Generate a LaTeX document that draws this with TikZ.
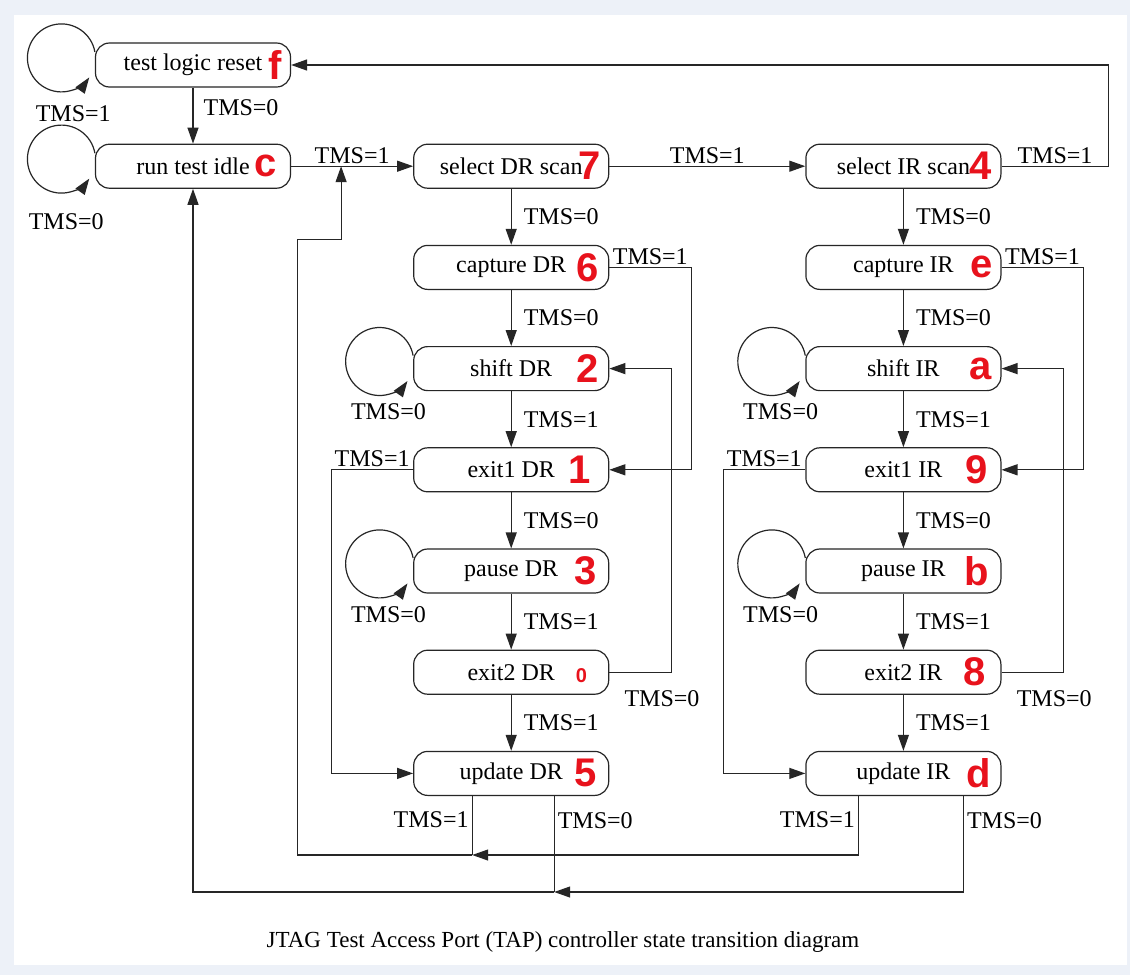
\documentclass[tikz,border=0pt]{standalone}
\usepackage{fontspec}
\setmainfont{Liberation Serif}
\newfontfamily\markfont{Liberation Sans}
\usetikzlibrary{arrows.meta,positioning,calc}
\definecolor{framebg}{RGB}{237,241,248}
\definecolor{markred}{RGB}{232,18,28}

\begin{document}
\begin{tikzpicture}[x=1pt,y=1pt,node distance=56pt and 120pt,
  tapstate/.style={draw=black!85,rounded corners=14pt,minimum width=195pt,minimum height=44pt,inner sep=2pt,fill=white,line width=1.2pt,font=\fontsize{24}{24}\selectfont},
  lbl/.style={inner sep=2pt,font=\fontsize{24}{24}\selectfont},
  hexmark/.style={anchor=east,inner sep=0pt,text=markred,font=\markfont\bfseries\fontsize{40}{40}\selectfont},
  arr/.style={-{Triangle[length=16pt,width=11pt]},line width=1.2pt,draw=black!85},
  wire/.style={line width=1.2pt,draw=black!85}]
% frame
\fill[framebg] (0,0) rectangle (1130,-975);
\fill[white] (14,-15) rectangle (1127,-965);
\useasboundingbox (0,0) rectangle (1130,-975);

% states
\node[tapstate] (tlr) at (193,-65) {test logic reset};
\node[tapstate,below=of tlr] (rti) {run test idle};
\node[tapstate,right=122pt of rti] (sdr) {select DR scan};
\node[tapstate,right=196pt of sdr] (sir) {select IR scan};
\node[tapstate,below=of sdr] (cdr) {capture DR};
\node[tapstate,below=of cdr] (shdr) {shift DR};
\node[tapstate,below=of shdr] (e1dr) {exit1 DR};
\node[tapstate,below=of e1dr] (pdr) {pause DR};
\node[tapstate,below=of pdr] (e2dr) {exit2 DR};
\node[tapstate,below=of e2dr] (udr) {update DR};
\node[tapstate,below=of sir] (cir) {capture IR};
\node[tapstate,below=of cir] (shir) {shift IR};
\node[tapstate,below=of shir] (e1ir) {exit1 IR};
\node[tapstate,below=of e1ir] (pir) {pause IR};
\node[tapstate,below=of pir] (e2ir) {exit2 IR};
\node[tapstate,below=of e2ir] (uir) {update IR};

% red state codes
\node[hexmark] (mtlr) at ([xshift=-9pt]tlr.east) {f};
\node[hexmark] (mrti) at ([xshift=-14pt]rti.east) {c};
\node[hexmark] (msdr) at ([xshift=-8pt]sdr.east) {7};
\node[hexmark] (msir) at ([xshift=-10pt]sir.east) {4};
\node[hexmark] (mcdr) at ([xshift=-10pt]cdr.east) {6};
\node[hexmark] (mcir) at ([xshift=-9pt]cir.east) {e};
\node[hexmark] (mshdr) at ([xshift=-10pt]shdr.east) {2};
\node[hexmark] (mshir) at ([xshift=-10pt]shir.east) {a};
\node[hexmark] (me1dr) at ([xshift=-18pt]e1dr.east) {1};
\node[hexmark] (me1ir) at ([xshift=-14pt]e1ir.east) {9};
\node[hexmark] (mpdr) at ([xshift=-12pt]pdr.east) {3};
\node[hexmark] (mpir) at ([xshift=-12pt]pir.east) {b};
\node[hexmark,font=\markfont\bfseries\fontsize{20}{20}\selectfont] (me2dr) at ([xshift=-22pt,yshift=-3pt]e2dr.east) {0};
\node[hexmark] (me2ir) at ([xshift=-16pt]e2ir.east) {8};
\node[hexmark] (mudr) at ([xshift=-12pt]udr.east) {5};
\node[hexmark] (muir) at ([xshift=-10pt]uir.east) {d};

% self loops
\draw[arr] ([shift={(0,13)}]tlr.west) arc[start angle=10,end angle=325,radius=34] node[lbl,shift={(-16,-36)}] {TMS=1};
\draw[arr] ([shift={(0,13)}]rti.west) arc[start angle=10,end angle=325,radius=34] node[lbl,shift={(-23,-43)}] {TMS=0};
\draw[arr] ([shift={(0,13)}]shdr.west) arc[start angle=10,end angle=325,radius=34] node[lbl,shift={(-19,-31)}] {TMS=0};
\draw[arr] ([shift={(0,13)}]pdr.west) arc[start angle=10,end angle=325,radius=34] node[lbl,shift={(-19,-31)}] {TMS=0};
\draw[arr] ([shift={(0,13)}]shir.west) arc[start angle=10,end angle=325,radius=34] node[lbl,shift={(-19,-31)}] {TMS=0};
\draw[arr] ([shift={(0,13)}]pir.west) arc[start angle=10,end angle=325,radius=34] node[lbl,shift={(-19,-31)}] {TMS=0};

% top row
\draw[arr] (tlr) -- node[lbl,right=8pt,pos=0.36]{TMS=0} (rti);
\draw[arr] (rti) -- node[lbl,above]{TMS=1} (sdr);
\draw[arr] (sdr) -- node[lbl,above]{TMS=1} (sir);
\draw[arr] (sir.east) -- node[lbl,above]{TMS=1} ++(107,0) |- (tlr.east);

% DR column
\draw[arr] (sdr) -- node[lbl,right=10pt]{TMS=0} (cdr);
\draw[arr] (cdr) -- node[lbl,right=10pt]{TMS=0} (shdr);
\draw[arr] (shdr) -- node[lbl,right=10pt]{TMS=1} (e1dr);
\draw[arr] (e1dr) -- node[lbl,right=10pt]{TMS=0} (pdr);
\draw[arr] (pdr) -- node[lbl,right=10pt]{TMS=1} (e2dr);
\draw[arr] (e2dr) -- node[lbl,right=10pt]{TMS=1} (udr);
\draw[arr] (cdr.east) -- node[lbl,above]{TMS=1} ++(82,0) |- (e1dr.east);
\draw[arr] (e2dr.east) -- node[lbl,below=16pt,pos=0.85]{TMS=0} ++(62,0) |- (shdr.east);
\draw[arr] (e1dr.west) -- node[lbl,above]{TMS=1} ++(-82,0) |- (udr.west);

% IR column
\draw[arr] (sir) -- node[lbl,right=10pt]{TMS=0} (cir);
\draw[arr] (cir) -- node[lbl,right=10pt]{TMS=0} (shir);
\draw[arr] (shir) -- node[lbl,right=10pt]{TMS=1} (e1ir);
\draw[arr] (e1ir) -- node[lbl,right=10pt]{TMS=0} (pir);
\draw[arr] (pir) -- node[lbl,right=10pt]{TMS=1} (e2ir);
\draw[arr] (e2ir) -- node[lbl,right=10pt]{TMS=1} (uir);
\draw[arr] (cir.east) -- node[lbl,above]{TMS=1} ++(82,0) |- (e1ir.east);
\draw[arr] (e2ir.east) -- node[lbl,below=16pt,pos=0.85]{TMS=0} ++(62,0) |- (shir.east);
\draw[arr] (e1ir.west) -- node[lbl,above]{TMS=1} ++(-82,0) |- (uir.west);

% return paths
\coordinate (ret) at ([xshift=50pt]rti.east);
\coordinate (bend) at ($(rti.east)+(6,-73)$);
\coordinate (j1) at ($(udr.south)+(-39,-59)$);
\coordinate (j2) at ($(udr.south)+(43,-96)$);
\draw[wire] ([xshift=-39pt]udr.south) -- node[lbl,left=1pt,pos=0.4]{TMS=1} (j1);
\draw[arr] ([xshift=-45pt]uir.south) |- node[lbl,left=1pt,pos=0.2]{TMS=1} (j1);
\draw[arr] (j1) -| (bend) -| (ret);
\draw[wire] ([xshift=43pt]udr.south) -- node[lbl,right=1pt,pos=0.26]{TMS=0} (j2);
\draw[arr] ([xshift=60pt]uir.south) |- node[lbl,right=1pt,pos=0.13]{TMS=0} (j2);
\draw[arr] (j2) -| (rti.south);

\node[font=\fontsize{23}{23}\selectfont] (caption) at (563,-942) {JTAG Test Access Port (TAP) controller state transition diagram};
\end{tikzpicture}
\end{document}
